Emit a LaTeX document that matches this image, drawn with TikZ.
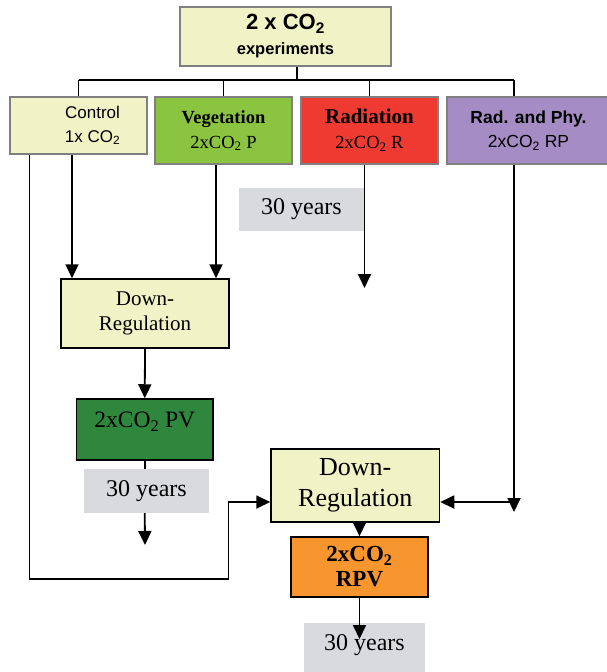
\documentclass[tikz,border=0pt]{standalone}
\usepackage{fontspec}
\setmainfont{Liberation Serif}
\setsansfont{Liberation Sans}
\usetikzlibrary{arrows.meta,calc}
\definecolor{lyel}{HTML}{F0F3C6}
\definecolor{vgreen}{HTML}{8BC440}
\definecolor{rred}{HTML}{EE3A31}
\definecolor{rpurple}{HTML}{A68CC4}
\definecolor{dgreen}{HTML}{2E873C}
\definecolor{rorange}{HTML}{F7962F}
\definecolor{ygray}{HTML}{D9DADD}
\definecolor{bgray}{HTML}{808080}
\begin{document}
\begin{tikzpicture}[x=1pt,y=-1pt,
  topbox/.style={rectangle,draw=bgray,line width=2.5pt,inner sep=0pt,align=center},
  lowbox/.style={rectangle,draw=black,line width=1.5pt,inner sep=0pt,align=center},
  yrsbox/.style={rectangle,fill=ygray,draw=none,inner sep=0pt,font=\fontsize{24}{28}\selectfont},
  conn/.style={line width=1.8pt},
  arr/.style={line width=1.8pt,-{Triangle[length=14pt,width=13pt]}}]
\useasboundingbox (0,0) rectangle (606,672);

% top level
\node[topbox,fill=lyel,minimum width=211pt,minimum height=59pt,
  font=\sffamily\bfseries\fontsize{16.5}{25}\selectfont] (top) at (285.5,36.5)
  {{\fontsize{22}{25}\selectfont 2 x CO\textsubscript{2}}\\experiments};

\node[topbox,fill=lyel,minimum width=137pt,minimum height=57pt,
  label={[align=center,xshift=14pt,font=\sffamily\fontsize{17}{24}\selectfont]center:Control\\1x CO\textsubscript{2}}] (ctrl) at (78.5,125.5) {};
\node[topbox,fill=vgreen,minimum width=137pt,minimum height=67pt,
  font=\fontsize{18.5}{25}\selectfont] (veg) at (223.5,130.5)
  {\textbf{Vegetation}\\2xCO\textsubscript{2} P};
\node[topbox,fill=rred,minimum width=137pt,minimum height=67pt,
  font=\fontsize{18.5}{25}\selectfont] (rad) at (369.5,130.5)
  {{\fontsize{21}{25}\selectfont\textbf{Radiation}}\\2xCO\textsubscript{2} R};
\node[topbox,fill=rpurple,minimum width=163pt,minimum height=67pt,
  font=\sffamily\fontsize{17.5}{24}\selectfont] (rp) at (528.5,130.5)
  {\textbf{Rad. and Phy.}\\2xCO\textsubscript{2} RP};

\node[yrsbox,minimum width=125pt,minimum height=43pt] (yrsA) at (301.5,209.5) {30 years};

% bus
\coordinate (bus) at (297,80);
\draw[conn] ([xshift=11.5pt]top.south) -- (bus);
\draw[conn] (ctrl.north |- bus) -- ([xshift=-14.5pt]rp.north |- bus);
\draw[conn] (ctrl.north |- bus) -- (ctrl.north);
\draw[conn] (veg.north |- bus) -- (veg.north);
\draw[conn] (rad.north |- bus) -- (rad.north);
\draw[conn] ([xshift=-14.5pt]rp.north |- bus) -- ([xshift=-14.5pt]rp.north);

% lower
\node[lowbox,fill=lyel,minimum width=168pt,minimum height=69pt,
  font=\fontsize{21}{25}\selectfont] (dr1) at (145,313.5) {Down-\\Regulation};
\node[lowbox,fill=dgreen,minimum width=136.5pt,minimum height=61pt,
  label={[font=\fontsize{23.5}{28}\selectfont,yshift=8pt]center:2xCO\textsubscript{2} PV}] (pv) at (144.75,429.5) {};
\node[yrsbox,minimum width=125pt,minimum height=44pt] (yrsB) at (146.5,491) {30 years};
\node[lowbox,fill=lyel,minimum width=168.5pt,minimum height=73pt,
  font=\fontsize{26}{31}\selectfont] (dr2) at (355.25,485.5) {Down-\\Regulation};
\node[lowbox,fill=rorange,minimum width=137pt,minimum height=60pt,
  font=\bfseries\fontsize{23}{25}\selectfont] (rpv) at (359.5,567) {2xCO\textsubscript{2}\\RPV};
\node[yrsbox,minimum width=121pt,minimum height=49pt,
  label={[font=\fontsize{24}{28}\selectfont,yshift=2pt]center:30 years}] (yrsC) at (364.5,647.5) {};

% free ends
\coordinate (radEnd) at (364.5,288);
\coordinate (rpEnd) at (514,512);
\coordinate (rpJoin) at (514,502);
\coordinate (pvEnd) at (145,545);
\coordinate (loopA) at (228.5,579);
\coordinate (rpvEnd) at (359.5,639);

% connectors
\draw[arr] ([xshift=-6.5pt]ctrl.south) -- ([xshift=-6.5pt]ctrl.south |- dr1.north);
\draw[arr] ([xshift=-7.5pt]veg.south) -- ([xshift=-7.5pt]veg.south |- dr1.north);
\draw[arr] ([xshift=-5pt]rad.south) -- (radEnd);
\draw[arr] ([xshift=-14.5pt]rp.south) -- (rpEnd);
\draw[arr] (rpJoin) -- ([yshift=-16.5pt]dr2.east);
\draw[arr] (dr1.south) -- (pv.north);
\draw[conn] (pv.south) -- (pv.south |- yrsB.north);
\draw[arr] (pv.south |- yrsB.south) -- (pvEnd);
\draw[arr] ([xshift=-49pt]ctrl.south) |- (loopA) |- ([yshift=-16.5pt]dr2.west);
\draw[arr] (rpv.north |- dr2.south) -- (rpv.north);
\draw[arr] (rpv.south) -- (rpvEnd);
\end{tikzpicture}
\end{document}
